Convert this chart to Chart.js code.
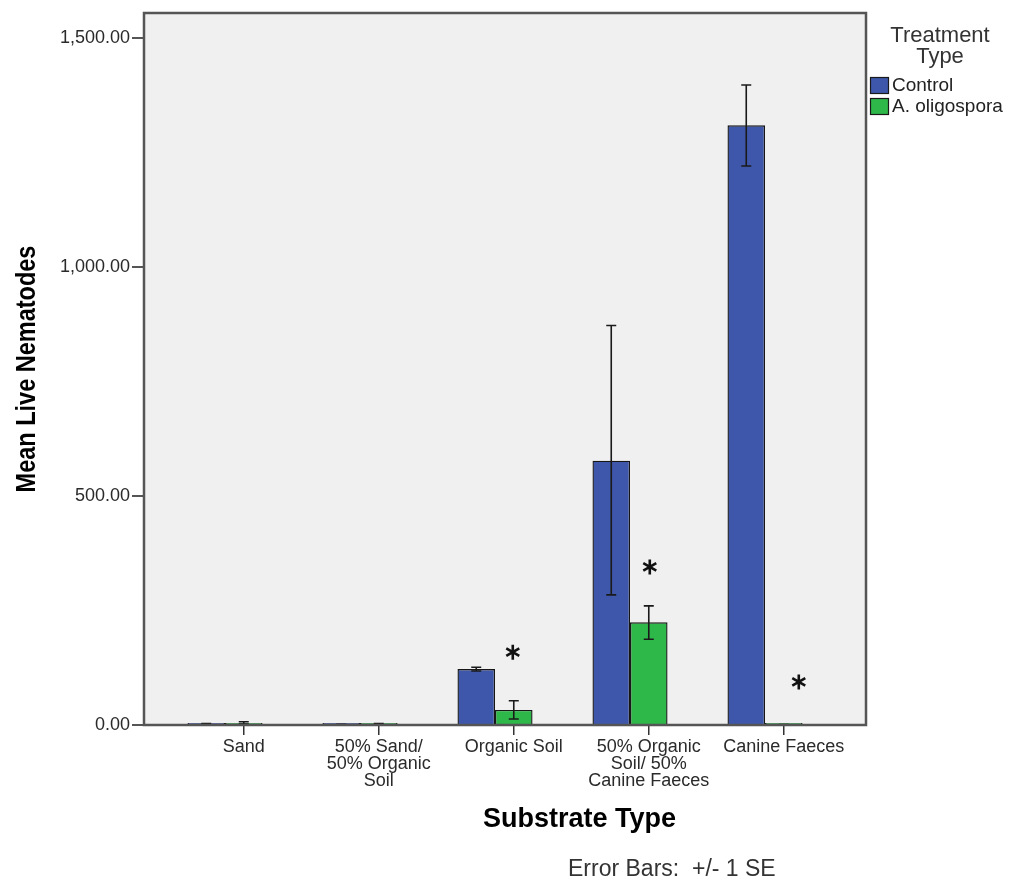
<!DOCTYPE html>
<html>
<head>
<meta charset="utf-8">
<script src="https://cdn.jsdelivr.net/npm/chart.js@4.4.1/dist/chart.umd.min.js"></script>
<style>
  body { margin: 0; background: #fff; }
  canvas { display: block; }
</style>
</head>
<body>
<canvas id="numberChart" width="1017" height="879"></canvas>
<script>
// categories and values
const substrates = [
  ['Sand'],
  ['50% Sand/', '50% Organic', 'Soil'],
  ['Organic Soil'],
  ['50% Organic', 'Soil/ 50%', 'Canine Faeces'],
  ['Canine Faeces']
];
const controlMean = [1.5, 1, 122, 577, 1309];
const controlLow = [0.5, 0.5, 118, 284, 1220];
const controlHigh = [3, 1.5, 126, 872, 1397];
const oligoMean = [4, 2, 33, 224, 0.5];
const oligoLow = [2, 1, 13, 187, 0];
const oligoHigh = [7, 3, 53, 260, 1];
const starValue = [null, null, 159, 345, 94]; // where the * sits
const yTicks = [0, 500, 1000, 1500];

const FONT = '"Liberation Sans", Arial, sans-serif';

const extras = {
  id: 'extras',
  beforeDraw(chart) {
    const { ctx, chartArea: a } = chart;
    ctx.save();
    ctx.fillStyle = '#f0f0f0';
    ctx.fillRect(a.left, a.top, a.right - a.left, a.bottom - a.top);
    ctx.restore();
  },
  afterDatasetsDraw(chart) {
    const { ctx, scales } = chart;
    const y = scales.y;
    const lows = [controlLow, oligoLow];
    const highs = [controlHigh, oligoHigh];
    ctx.save();
    ctx.strokeStyle = '#1a1a1a';
    ctx.lineWidth = 1.6;
    [0, 1].forEach(d => {
      chart.getDatasetMeta(d).data.forEach((bar, i) => {
        const y1 = y.getPixelForValue(lows[d][i]);
        const y2 = y.getPixelForValue(highs[d][i]);
        ctx.beginPath();
        ctx.moveTo(bar.x, y1); ctx.lineTo(bar.x, y2);
        ctx.moveTo(bar.x - 5, y1); ctx.lineTo(bar.x + 5, y1);
        ctx.moveTo(bar.x - 5, y2); ctx.lineTo(bar.x + 5, y2);
        ctx.stroke();
      });
    });

    // significance stars above the A. oligospora bars
    const nudge = [0, 0, -1, 1, 15];
    ctx.lineWidth = 2.6;
    ctx.strokeStyle = '#111';
    chart.getDatasetMeta(1).data.forEach((bar, i) => {
      if (starValue[i] == null) return;
      const cx = bar.x + nudge[i];
      const cy = y.getPixelForValue(starValue[i]);
      ctx.beginPath();
      for (let k = 0; k < 3; k++) {
        const ang = Math.PI / 2 + k * Math.PI / 3;
        ctx.moveTo(cx - 7.5 * Math.cos(ang), cy - 7.5 * Math.sin(ang));
        ctx.lineTo(cx + 7.5 * Math.cos(ang), cy + 7.5 * Math.sin(ang));
      }
      ctx.stroke();
    });
    ctx.restore();
  },
  afterDraw(chart) {
    const { ctx, chartArea: a } = chart;
    ctx.save();
    // frame
    ctx.strokeStyle = '#555';
    ctx.lineWidth = 2.5;
    ctx.strokeRect(a.left, a.top, a.right - a.left, a.bottom - a.top);

    // axis titles
    ctx.fillStyle = '#000';
    ctx.font = 'bold 27px ' + FONT;
    ctx.textAlign = 'left';
    ctx.textBaseline = 'alphabetic';
    ctx.fillText('Substrate Type', 483, 827);

    ctx.save();
    ctx.translate(35, (a.top + a.bottom) / 2);
    ctx.rotate(-Math.PI / 2);
    ctx.scale(1, 1.2);
    ctx.textAlign = 'center';
    ctx.font = 'bold 23.5px ' + FONT;
    ctx.fillText('Mean Live Nematodes', 0, 0);
    ctx.restore();

    // footnote
    ctx.fillStyle = '#333';
    ctx.font = '23px ' + FONT;
    ctx.fillText('Error Bars:  +/- 1 SE', 568, 876);

    // legend
    ctx.textAlign = 'center';
    ctx.font = '22px ' + FONT;
    ctx.fillText('Treatment', 940, 42);
    ctx.fillText('Type', 940, 63);
    const items = [['Control', '#3e57aa'], ['A. oligospora', '#2eb84a']];
    ctx.textAlign = 'left';
    ctx.textBaseline = 'middle';
    ctx.font = '19px ' + FONT;
    items.forEach(([label, color], k) => {
      const top = 77 + k * 21;
      ctx.fillStyle = color;
      ctx.fillRect(870, top, 19, 17);
      ctx.strokeStyle = '#1a1a1a';
      ctx.lineWidth = 1.2;
      ctx.strokeRect(870.5, top + 0.5, 18, 16);
      ctx.fillStyle = '#222';
      ctx.fillText(label, 892, top + 9);
    });
    ctx.restore();
  }
};

const ctx = document.getElementById('numberChart').getContext('2d');
const numberChart = new Chart(ctx, {
  type: 'bar',
  data: {
    datasets: [{
      label: 'Control',
      data: controlMean.map((v, i) => ({ x: i, y: v })),
      backgroundColor: '#3e57aa',
      borderColor: '#161616',
      borderWidth: 1.4,
      minBarLength: 2
    }, {
      label: 'A. oligospora',
      data: oligoMean.map((v, i) => ({ x: i, y: v })),
      backgroundColor: '#2eb84a',
      borderColor: '#161616',
      borderWidth: 1.4,
      minBarLength: 2
    }]
  },
  options: {
    responsive: false,
    animation: false,
    categoryPercentage: 0.556,
    barPercentage: 1,
    layout: { padding: { left: 0, top: 13, right: 151, bottom: 0 } },
    plugins: { legend: { display: false }, tooltip: { enabled: false } },
    scales: {
      x: {
        type: 'linear',
        offset: false,
        min: -0.6,
        max: 4.748,
        afterBuildTicks: scale => {
          // SPSS puts the tick under the second bar of each cluster
          scale.ticks = substrates.map((_, i) => ({ value: i + 0.139 }));
        },
        afterFit: scale => { scale.height = 154; },
        ticks: {
          autoSkip: false,
          maxRotation: 0,
          padding: 3,
          color: '#2a2a2a',
          font: { family: FONT, size: 18, lineHeight: 0.95 },
          callback: value => substrates[Math.round(value)]
        },
        grid: { offset: false, drawOnChartArea: false, drawTicks: true, tickLength: 10, color: '#333', lineWidth: 1.5 },
        border: { display: false }
      },
      y: {
        min: 0,
        max: 1554,
        afterBuildTicks: scale => {
          scale.ticks = yTicks.map(v => ({ value: v }));
        },
        afterFit: scale => { scale.width = 144; },
        ticks: {
          padding: 2,
          color: '#2a2a2a',
          font: { family: FONT, size: 18 },
          callback: value => value.toLocaleString('en-US', { minimumFractionDigits: 2, maximumFractionDigits: 2 })
        },
        grid: { drawOnChartArea: false, drawTicks: true, tickLength: 12, color: '#555', lineWidth: 2 },
        border: { display: false }
      }
    }
  },
  plugins: [extras]
});
</script>
</body>
</html>
